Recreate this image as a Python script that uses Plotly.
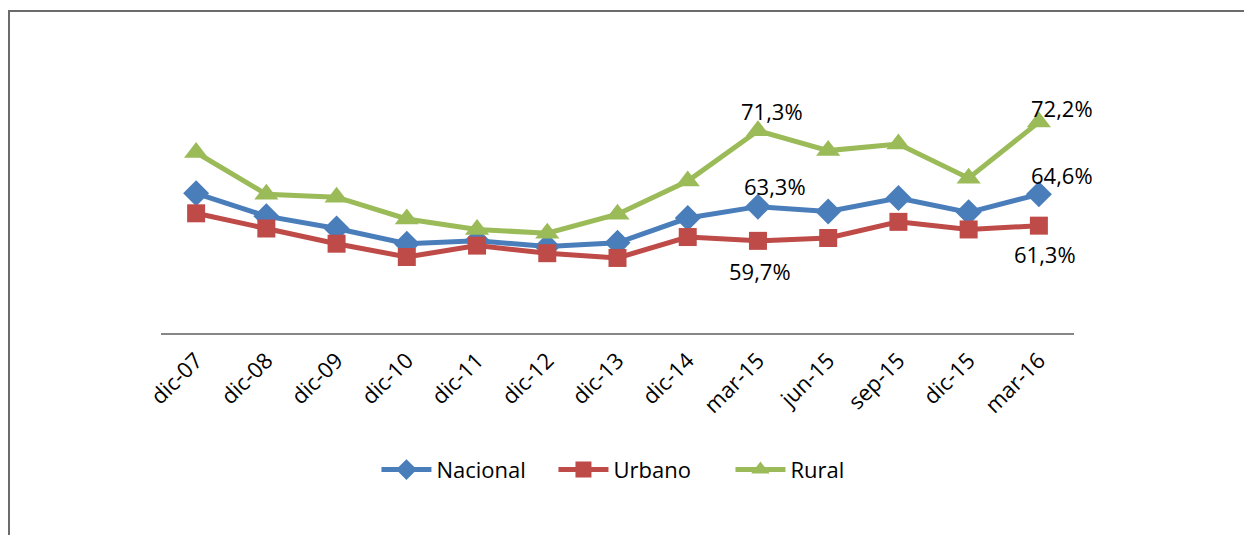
import plotly.graph_objects as go

categories = ["dic-07", "dic-08", "dic-09", "dic-10", "dic-11", "dic-12", "dic-13",
              "dic-14", "mar-15", "jun-15", "sep-15", "dic-15", "mar-16"]
nacional = [64.7, 62.3, 61.0, 59.4, 59.7, 59.1, 59.5, 62.1, 63.3, 62.8, 64.2, 62.7, 64.6]
urbano = [62.6, 61.0, 59.4, 58.0, 59.2, 58.4, 57.9, 60.1, 59.7, 60.0, 61.7, 60.9, 61.3]
rural = [69.0, 64.6, 64.3, 62.0, 60.9, 60.5, 62.5, 66.0, 71.3, 69.2, 69.9, 66.3, 72.2]

label_idx = [8, 12]

FONT = "Open Sans"
FS = 22
fig = go.Figure()
series = [
    ("Nacional", nacional, "#4A7EBB", "diamond", 20),
    ("Urbano", urbano, "#BE4B48", "square", 18),
    ("Rural", rural, "#9BBB59", "triangle-up", 21),
]
for name, vals, col, sym, sz in series:
    fig.add_trace(go.Scatter(
        x=categories, y=vals, name=name, mode="lines+markers",
        line=dict(color=col, width=5),
        marker=dict(symbol=sym, size=sz, color=col),
    ))

annots = []
offsets = {
    "Rural": [(14, 20), (23, 14)],
    "Nacional": [(17, 21), (23, 19)],
    "Urbano": [(2, -30), (6, -28)],
}
for name, vals, col, sym, sz in series:
    for (dx, dy), i in zip(offsets[name], label_idx):
        annots.append(dict(
            x=categories[i], y=vals[i], xref="x", yref="y",
            text=f"{vals[i]:.1f}%".replace(".", ","),
            showarrow=False, xshift=dx, yshift=dy,
            font=dict(family=FONT, size=FS, color="#000000"),
        ))

fig.update_layout(
    width=1252, height=535,
    margin=dict(l=153, r=186, t=40, b=210),
    paper_bgcolor="white", plot_bgcolor="white",
    font=dict(family=FONT, size=FS, color="#000000"),
    xaxis=dict(
        type="category", range=[-0.5, len(categories) - 0.5],
        tickangle=-45, showgrid=False, zeroline=False,
        showline=True, linecolor="#868686", linewidth=2, ticks="",
        tickfont=dict(family=FONT, size=FS), ticklabelstandoff=4,
    ),
    yaxis=dict(range=[50, 80], visible=False, showgrid=False, zeroline=False),
    legend=dict(orientation="h", x=0.236, xanchor="left", y=-0.48, yanchor="middle",
                font=dict(family=FONT, size=FS), itemwidth=50,
                entrywidth=112, entrywidthmode="pixels", tracegroupgap=0),
    showlegend=True,
    annotations=annots,
    shapes=[dict(
        type="path", xref="paper", yref="paper",
        path="M -0.1665,-0.8 L -0.1665,1.1298 L 1.3,1.1298",
        line=dict(color="#6b6b6b", width=2),
    )],
)

fig.write_html("out.html")
